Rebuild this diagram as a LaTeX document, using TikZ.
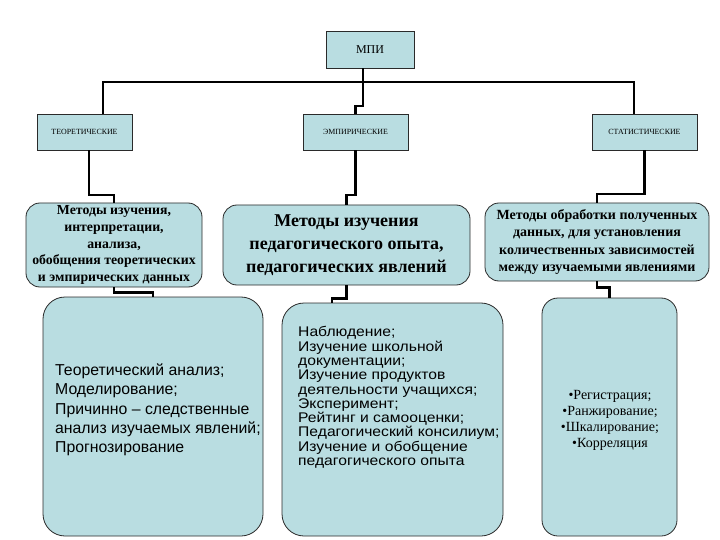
\documentclass[tikz,border=0pt]{standalone}
\usepackage{fontspec}
\setmainfont{Liberation Serif}
\setsansfont{Liberation Sans}
\newfontfamily\widesans[FakeStretch=1.12]{Liberation Sans}
\definecolor{paleteal}{HTML}{B9DDE1}
\definecolor{edge}{HTML}{2A2A2A}
\usetikzlibrary{positioning,calc}

\begin{document}
\begin{tikzpicture}[x=1pt,y=-1pt,every node/.style={align=center,inner sep=0pt},
      head/.style={draw=edge,line width=0.8pt,fill=paleteal,minimum width=88pt,minimum height=37pt,font=\fontsize{12}{14}\selectfont},
      branch/.style={draw=edge,line width=0.8pt,fill=paleteal,minimum height=36pt,font=\fontsize{7.9}{10}\selectfont},
      group/.style={draw=edge,line width=0.8pt,fill=paleteal,rounded corners=14pt,font=\bfseries},
      list/.style={draw=edge,line width=0.8pt,fill=paleteal,rounded corners=22pt},
      link/.style={line width=2.2pt,black}]
    \useasboundingbox (0,0) rectangle (720,540);
    \node[head] (mpi) at (370,49.5) {МПИ};
    \node[branch,minimum width=95pt] (teor) at (84.5,132) {ТЕОРЕТИЧЕСКИЕ};
    \node[branch,minimum width=105pt] (emp) at (355.5,132) {ЭМПИРИЧЕСКИЕ};
    \node[branch,minimum width=105pt] (stat) at (644.5,132) {СТАТИСТИЧЕСКИЕ};
    \node[group,minimum width=176pt,minimum height=84pt,font=\bfseries\fontsize{13.8}{16.7}\selectfont] (m1) at (114,245)
      {Методы изучения,\\интерпретации,\\анализа,\\обобщения теоретических\\и эмпирических данных};
    \node[group,minimum width=247pt,minimum height=80pt,font=\bfseries\fontsize{18}{23}\selectfont] (m2) at (346.5,245)
      {Методы изучения\\педагогического опыта,\\педагогических явлений};
    \node[group,minimum width=224pt,minimum height=78pt,font=\bfseries\fontsize{14}{17.3}\selectfont] (m3) at (597,242)
      {Методы обработки полученных\\данных, для установления\\количественных зависимостей\\между изучаемыми явлениями};
    \node[list,minimum width=220pt,minimum height=239pt] (l1) at (153,416.5) {};
    \node[list,minimum width=221pt,minimum height=233pt] (l2) at (392.5,419.5) {};
    \node[list,rounded corners=16pt,minimum width=135pt,minimum height=238pt] (l3) at (609.5,417) {};
    \node[anchor=west,align=left,font=\sffamily\fontsize{15.8}{19.3}\selectfont] (l1txt) at (55,410)
      {Теоретический анализ;\\Моделирование;\\Причинно – следственные\\анализ изучаемых явлений;\\Прогнозирование};
    \node[anchor=west,align=left,font=\widesans\fontsize{14}{14.3}\selectfont] (l2txt) at (298,397.5)
      {Наблюдение;\\Изучение школьной\\документации;\\Изучение продуктов\\деятельности учащихся;\\Эксперимент;\\Рейтинг и самооценки;\\Педагогический консилиум;\\Изучение и обобщение\\педагогического опыта};
    \node[font=\fontsize{14}{16}\selectfont] (l3txt) at (610,420)
      {•Регистрация;\\•Ранжирование;\\•Шкалирование;\\•Корреляция};
    \coordinate (bus) at (363,82);
    \draw[link] (bus |- mpi.south) -- (bus);
    \draw[link] ([xshift=18.5pt]teor.north) |- (bus) -| ([xshift=-10.5pt]stat.north);
    \draw[link] (bus) -- ++(0,24) -| (emp.north);
    \draw[link] ([xshift=4.5pt]teor.south) -- ++(0,45) -| (m1.north);
    \draw[link] (emp.south) -- ++(0,45) -| (m2.north);
    \draw[link] (stat.south) -- ++(0,44) -| (m3.north);
    \draw[link] (m1.south) -- ++(0,5) -| (l1.north);
    \draw[link] (m2.south) -- ++(0,13) -| ([xshift=-60.5pt]l2.north);
    \draw[link] (m3.south) -- ++(0,6) -| (l3.north);
  \end{tikzpicture}
\end{document}
